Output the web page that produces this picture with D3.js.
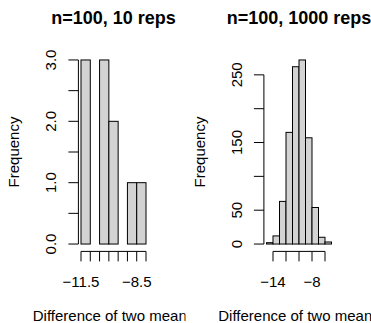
<!DOCTYPE html>
<html>
<head>
<meta charset="utf-8">
<script src="https://cdn.jsdelivr.net/npm/d3@7"></script>
<style>
  body { margin: 0; background: #fff; }
  svg { display: block; }
  text { font-family: "Liberation Sans", Arial, sans-serif; fill: #000; }
</style>
</head>
<body>
<svg id="chart" width="371" height="323"></svg>
<script>
// histogram 1: n=100, 10 reps (bin width 0.5)
const breaks10 = [-11.5, -11, -10.5, -10, -9.5, -9, -8.5, -8];
const counts10 = [3, 0, 3, 2, 0, 1, 1];
const yTicks10 = [0, 0.5, 1, 1.5, 2, 2.5, 3];
const yLabels10 = [0, 1, 2, 3];
const xTicks10 = [-11.5, -11, -10.5, -10, -9.5, -9, -8.5, -8];
const xLabels10 = [-11.5, -8.5];

// histogram 2: n=100, 1000 reps (bin width 1)
const breaks1000 = [-15, -14, -13, -12, -11, -10, -9, -8, -7, -6, -5];
const counts1000 = [2, 12, 63, 165, 262, 272, 157, 54, 10, 3];
const yTicks1000 = [0, 50, 100, 150, 200, 250];
const yLabels1000 = [0, 50, 150, 250];
const xTicks1000 = [-14, -12, -10, -8, -6];
const xLabels1000 = [-14, -8];

const svg = d3.select("#chart");
const figW = 371 / 2;
const plot = { left: 78.4, width: 70.2, top: 52.6, bottom: 251.4 };
const fs = 15;

const panels = [
  { title: "n=100, 10 reps", breaks: breaks10, counts: counts10, yTicks: yTicks10,
    yLabels: yLabels10, xTicks: xTicks10, xLabels: xLabels10, fmt: d3.format(".1f") },
  { title: "n=100, 1000 reps", breaks: breaks1000, counts: counts1000, yTicks: yTicks1000,
    yLabels: yLabels1000, xTicks: xTicks1000, xLabels: xLabels1000, fmt: d3.format("d") }
];

const minus = s => s.replace("-", "\u2212");

panels.forEach((p, i) => {
  const ox = i * figW;
  const x0 = ox + plot.left, x1 = x0 + plot.width;

  // R style: extend data range by 4% on both sides
  const xr = d3.extent(p.breaks), xpad = (xr[1] - xr[0]) * 0.04;
  const x = d3.scaleLinear().domain([xr[0] - xpad, xr[1] + xpad]).range([x0, x1]);
  const ymax = d3.max(p.counts), ypad = ymax * 0.04;
  const y = d3.scaleLinear().domain([-ypad, ymax + ypad]).range([plot.bottom, plot.top]);

  const clipId = "fig" + i;
  svg.append("clipPath").attr("id", clipId)
    .append("rect").attr("x", ox).attr("y", 0).attr("width", figW).attr("height", 323);

  const g = svg.append("g").attr("clip-path", `url(#${clipId})`);

  // bars
  g.append("g").selectAll("rect")
    .data(p.counts)
    .join("rect")
    .attr("x", (d, j) => x(p.breaks[j]))
    .attr("width", (d, j) => x(p.breaks[j + 1]) - x(p.breaks[j]))
    .attr("y", d => y(d))
    .attr("height", d => y(0) - y(d))
    .attr("fill", "#d3d3d3")
    .attr("stroke", "#000")
    .attr("stroke-width", 1);

  // y axis (line from first to last tick)
  const ya = g.append("g").attr("transform", `translate(${x0},0)`);
  ya.append("line")
    .attr("y1", y(p.yTicks[0])).attr("y2", y(p.yTicks[p.yTicks.length - 1]))
    .attr("stroke", "#000");
  ya.selectAll("line.tick").data(p.yTicks).join("line").attr("class", "tick")
    .attr("x1", 0).attr("x2", -10)
    .attr("y1", d => y(d)).attr("y2", d => y(d))
    .attr("stroke", "#000");
  ya.selectAll("text").data(p.yLabels).join("text")
    .attr("transform", d => `translate(-22,${y(d)}) rotate(-90)`)
    .attr("text-anchor", "middle")
    .attr("font-size", fs)
    .text(d => p.fmt(d));

  // x axis
  const xa = g.append("g").attr("transform", `translate(0,${plot.bottom})`);
  xa.append("line")
    .attr("x1", x(p.xTicks[0])).attr("x2", x(p.xTicks[p.xTicks.length - 1]))
    .attr("stroke", "#000");
  xa.selectAll("line.tick").data(p.xTicks).join("line").attr("class", "tick")
    .attr("y1", 0).attr("y2", 10)
    .attr("x1", d => x(d)).attr("x2", d => x(d))
    .attr("stroke", "#000");
  xa.selectAll("text").data(p.xLabels).join("text")
    .attr("x", d => x(d)).attr("y", 36)
    .attr("text-anchor", "middle")
    .attr("font-size", fs)
    .text(d => minus(String(d)));

  // titles and axis labels
  const cx = (x0 + x1) / 2;
  g.append("text")
    .attr("x", cx).attr("y", 24)
    .attr("text-anchor", "middle")
    .attr("font-size", 18).attr("font-weight", "bold")
    .text(p.title);
  g.append("text")
    .attr("x", cx).attr("y", 321)
    .attr("text-anchor", "middle")
    .attr("font-size", fs)
    .text("Difference of two means");
  g.append("text")
    .attr("transform", `translate(${x0 - 59},${(plot.top + plot.bottom) / 2}) rotate(-90)`)
    .attr("text-anchor", "middle")
    .attr("font-size", fs)
    .text("Frequency");
});
</script>
</body>
</html>
